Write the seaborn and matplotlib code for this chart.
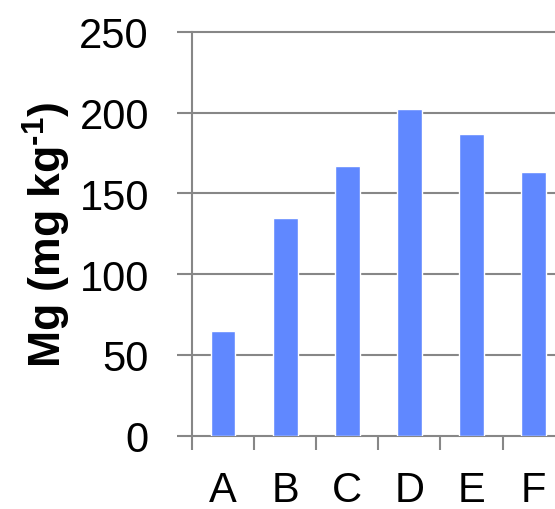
import matplotlib
matplotlib.use("Agg")
import matplotlib.pyplot as plt
import seaborn as sns
import pandas as pd

# Magnesium content per treatment
categories = ["A", "B", "C", "D", "E", "F"]
mg_values = [65, 135, 167, 202, 187, 163]
y_ticks = [0, 50, 100, 150, 200, 250]

df = pd.DataFrame({"treatment": categories, "mg": mg_values})

sns.set_theme(style="white")
plt.rcParams["font.family"] = ["Liberation Sans", "DejaVu Sans"]
plt.rcParams["mathtext.fontset"] = "custom"
plt.rcParams["mathtext.rm"] = "Liberation Sans"
plt.rcParams["mathtext.bf"] = "Liberation Sans:bold"

LINE = "#878787"
BAR = "#6088FF"

fig = plt.figure(figsize=(5.55, 5.1), dpi=100)
ax = fig.add_axes([192 / 555, 1 - 436.7 / 510, 372.7 / 555, 404 / 510])

sns.barplot(data=df, x="treatment", y="mg", color=BAR, saturation=1,
            width=0.4, ax=ax, zorder=3)

ax.set_xlim(-0.5, len(categories) - 0.5)
ax.set_ylim(0, 250)
ax.set_yticks(y_ticks)
ax.set_yticklabels([str(t) for t in y_ticks])

# horizontal gridlines
for t in y_ticks:
    ax.axhline(t, color=LINE, lw=1.5, zorder=1, clip_on=False)

for side in ["top", "right", "bottom"]:
    ax.spines[side].set_visible(False)
ax.spines["left"].set_color(LINE)
ax.spines["left"].set_linewidth(1.5)

# category boundary ticks below the baseline
ax.set_xticks([i - 0.5 for i in range(len(categories) + 1)], minor=True)
ax.tick_params(axis="x", which="minor", length=10, width=1.5, color=LINE,
               direction="out", bottom=True)
ax.tick_params(axis="x", which="major", length=0, pad=25, labelsize=30,
               labelcolor="black", bottom=True)
ax.tick_params(axis="y", which="major", length=11, width=1.5, color=LINE,
               direction="out", left=True, pad=20, labelsize=30,
               labelcolor="black")

ax.set_xlabel("")
ax.set_ylabel("Mg (mg kg$^{\\mathbf{\u20101}}$)", fontsize=32,
              fontweight="bold", color="black")
ax.yaxis.label.set_va("center")
ax.yaxis.set_label_coords((47 - 192) / 372.7, 0.5)

fig.savefig("out.png", dpi=100)
